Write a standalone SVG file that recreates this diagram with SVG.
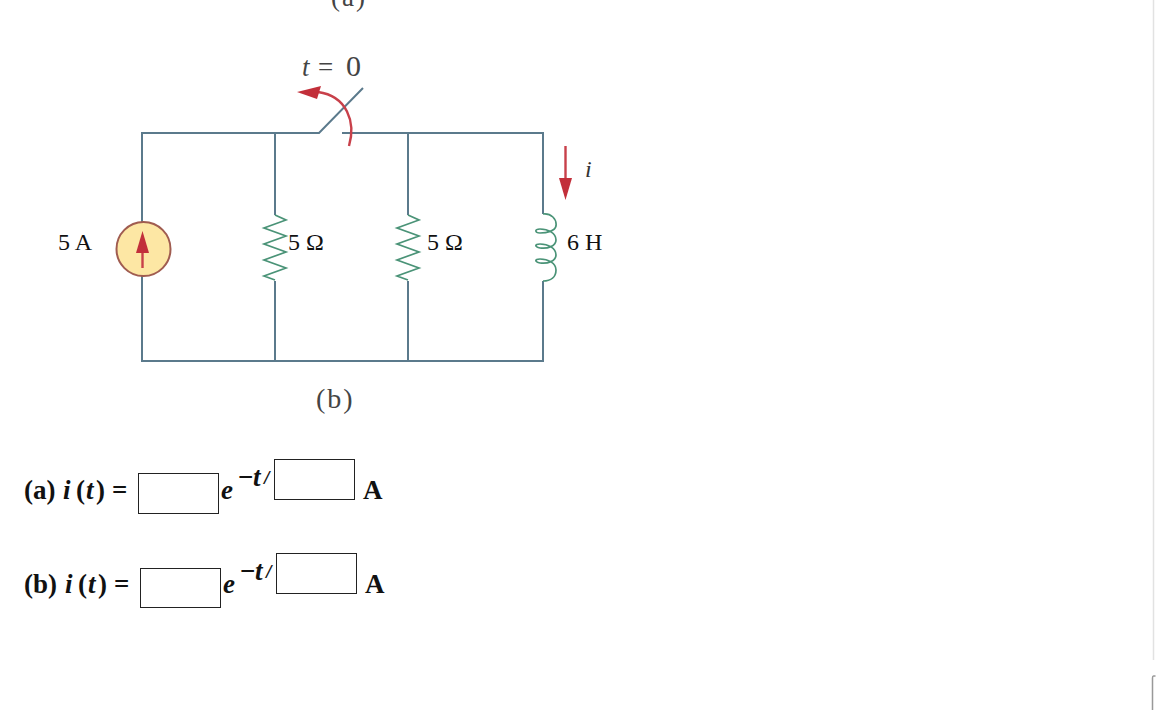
<svg xmlns="http://www.w3.org/2000/svg" width="1156" height="710" viewBox="0 0 1156 710">
<defs>
<style>
.w{fill:none;stroke:#5b7a8c;stroke-width:2}
.r{fill:none;stroke:#4a9377;stroke-width:1.700}
.red{fill:#c22f3a;stroke:none}
.redl{fill:none;stroke:#c8404a;stroke-width:2.400}
.t{font-family:"Liberation Serif",serif;font-size:24px;fill:#111}
.c{font-family:"Liberation Serif",serif;fill:#444}
.b{font-family:"Liberation Serif",serif;font-weight:bold;font-size:27px;fill:#111}
.bi{font-family:"Liberation Serif",serif;font-weight:bold;font-style:italic;font-size:27px;fill:#111}
.box{fill:#fff;stroke:#222;stroke-width:1}
</style>
</defs>
<rect width="1156" height="710" fill="#fff"/>
<g id="page-edge">
<path d="M1153.500 0V660" fill="none" stroke="#e2e2e2" stroke-width="1.500"/>
<path d="M1155.500 676H1153.500Q1152.500 676 1152.500 678V710" fill="none" stroke="#999" stroke-width="1.500"/>
</g>
<g id="connectors">
<path class="w" d="M142 228V133H319L363 88"/>
<path class="w" d="M342 133H543V214"/>
<path class="w" d="M142 276V361H543V281"/>
<path class="w" d="M275 133V215M275 281V361"/>
<path class="w" d="M408 133V215M408 281V361"/>
</g>
<g id="switch-arrow">
<path class="redl" d="M349 146C356 122 347 96 318 92"/>
<path class="red" d="M297 92L321 86L317 99Z"/>
</g>
<g id="source">
<circle cx="143.500" cy="249" r="27" fill="#fde7a4" stroke="#a05c50" stroke-width="2"/>
<path class="redl" d="M142.500 268V250"/>
<path class="red" d="M142.500 231L149 253H136Z"/>
</g>
<g id="r1"><path class="r" d="M275 215L286 220L264 228L286 236L264 244L286 252L264 260L286 268L264 276L275 280"/></g>
<g id="r2"><path class="r" d="M408 215L419 220L397 228L419 236L397 244L419 252L397 260L419 268L397 276L408 280"/></g>
<g id="inductor">
<path class="r" d="M543 214C551 213 557 219 556 226C555 231 547 233 540 233C535 233 534 229 540 229C548 229 556 233 556 240C556 246 548 249 540 248C535 247 534 244 540 244C548 244 556 248 556 255C556 261 548 264 540 263C535 262 534 259 540 259C548 259 556 263 556 270C556 277 551 281 543 281"/>
</g>
<g id="i-arrow">
<path class="redl" d="M565.500 146V180"/>
<path class="red" d="M565.500 200L559 178H572Z"/>
</g>
<g id="labels">
<text class="c" x="331" y="6" font-size="27" letter-spacing="2">(a)</text>
<text x="302" y="76" font-family="Liberation Serif,serif" font-size="27" font-style="italic" fill="#444">t</text>
<text class="c" x="318" y="76" font-size="27">=</text>
<text class="c" x="346" y="76" font-size="30">0</text>
<text x="585" y="177" font-family="Liberation Serif,serif" font-size="24" font-style="italic" fill="#333">i</text>
<text class="t" x="58" y="250">5 A</text>
<text class="t" x="288" y="250">5 Ω</text>
<text class="t" x="427" y="250">5 Ω</text>
<text class="t" x="567" y="250">6 H</text>
<text class="c" x="316" y="408" font-size="28" letter-spacing="2">(b)</text>
</g>
<g id="answer-a">
<text class="b" x="24" y="499">(a)</text>
<text class="bi" x="63" y="499">i</text>
<text class="b" x="76" y="499">(</text>
<text class="bi" x="86" y="499">t</text>
<text class="b" x="96" y="499">)</text>
<text class="b" x="112" y="499">=</text>
<rect class="box" x="138.500" y="473.500" width="80" height="40"/>
<text class="bi" x="221" y="499">e</text>
<text class="b" x="238" y="486">−</text>
<text class="bi" x="253" y="486">t</text>
<text x="264" y="484" font-family="Liberation Sans,sans-serif" font-style="italic" font-size="19" fill="#111">/</text>
<rect class="box" x="274.500" y="459.500" width="80" height="40"/>
<text class="b" x="363" y="499">A</text>
</g>
<g id="answer-b">
<text class="b" x="24" y="593">(b)</text>
<text class="bi" x="65" y="593">i</text>
<text class="b" x="78" y="593">(</text>
<text class="bi" x="88" y="593">t</text>
<text class="b" x="98" y="593">)</text>
<text class="b" x="114" y="593">=</text>
<rect class="box" x="140.500" y="568.500" width="80" height="39"/>
<text class="bi" x="223" y="593">e</text>
<text class="b" x="240" y="580">−</text>
<text class="bi" x="255" y="580">t</text>
<text x="266" y="578" font-family="Liberation Sans,sans-serif" font-style="italic" font-size="19" fill="#111">/</text>
<rect class="box" x="276.500" y="553.500" width="80" height="40"/>
<text class="b" x="365" y="593">A</text>
</g>
</svg>
